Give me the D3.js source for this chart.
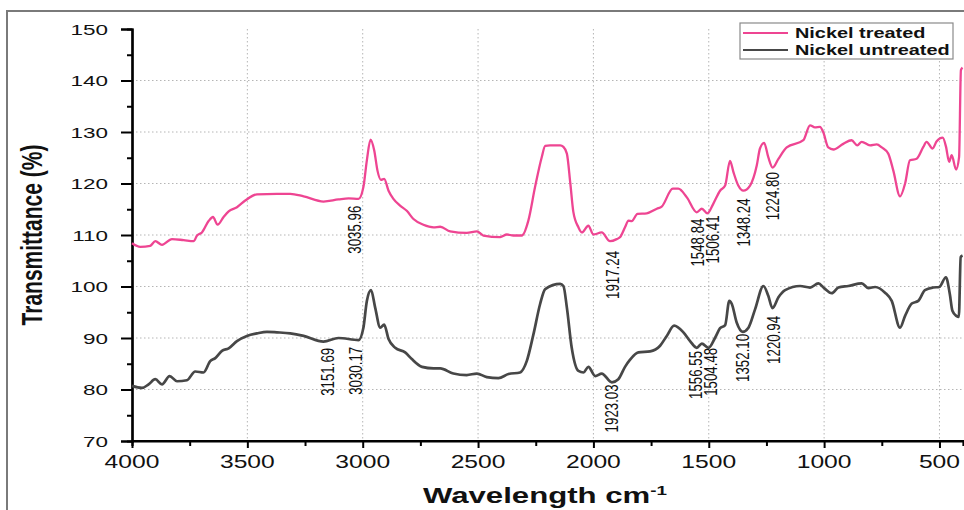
<!DOCTYPE html>
<html lang="en">
<head>
    <meta charset="UTF-8">
    <title>FTIR Nickel</title>
    <script src="https://cdn.jsdelivr.net/npm/d3@7"></script>
    <style>
      body { margin: 0; background: #fff; }
      text { font-family: "Liberation Sans", Arial, sans-serif; fill: #111; }
    </style>
</head>
<body>
<script>
  // wavenumbers (cm-1) and transmittance
  var treatedWn = [4000, 3964, 3921, 3899, 3870, 3827, 3776, 3733, 3718, 3697, 3668, 3649, 3629, 3603, 3581, 3545, 3509, 3458, 3372, 3314, 3256, 3170, 3105, 3061, 3018, 2997, 2982, 2966, 2950, 2936, 2921, 2907, 2888, 2867, 2838, 2809, 2780, 2737, 2693, 2664, 2621, 2549, 2505, 2477, 2404, 2375, 2347, 2310, 2282, 2253, 2224, 2209, 2188, 2144, 2130, 2115, 2100, 2087, 2065, 2050, 2022, 2000, 1964, 1928, 1899, 1884, 1863, 1848, 1834, 1809, 1769, 1725, 1704, 1656, 1632, 1595, 1552, 1530, 1506, 1480, 1451, 1429, 1408, 1393, 1372, 1350, 1321, 1292, 1278, 1260, 1242, 1223, 1198, 1162, 1090, 1061, 1040, 1018, 1004, 982, 960, 917, 881, 856, 837, 801, 772, 750, 722, 700, 671, 649, 628, 599, 570, 556, 530, 512, 486, 472, 458, 447, 428, 415, 407, 400];
  var treatedT = [108.4, 107.7, 107.9, 108.8, 108.1, 109.2, 109.0, 108.8, 109.9, 110.5, 112.7, 113.5, 112.0, 113.5, 114.6, 115.4, 116.7, 117.9, 118.0, 118.0, 117.5, 116.5, 116.9, 117.1, 117.0, 119.3, 124.5, 128.5, 126.4, 122.5, 120.7, 120.9, 118.6, 117.0, 115.7, 114.7, 113.1, 112.0, 111.5, 111.6, 110.7, 110.4, 110.7, 109.9, 109.6, 110.1, 109.9, 109.9, 112.8, 119.3, 125.1, 127.3, 127.4, 127.4, 127.1, 125.8, 120.0, 114.5, 111.5, 110.5, 111.8, 110.1, 110.5, 108.8, 109.2, 109.6, 111.5, 112.8, 112.7, 114.1, 114.2, 115.1, 115.5, 119.0, 119.0, 117.3, 114.4, 115.1, 114.2, 116.1, 118.6, 119.6, 124.4, 122.2, 119.6, 118.6, 119.6, 123.5, 126.8, 127.9, 125.1, 123.1, 124.8, 127.0, 128.4, 131.3, 130.9, 131.0, 130.0, 127.0, 126.6, 127.7, 128.4, 127.4, 128.1, 127.4, 127.6, 127.0, 125.8, 122.5, 117.5, 120.0, 124.5, 124.8, 127.1, 128.1, 126.8, 128.2, 128.9, 127.2, 124.2, 125.5, 122.7, 125.1, 142.0, 142.5];

  var untreatedWn = [4000, 3957, 3928, 3899, 3870, 3837, 3805, 3762, 3726, 3690, 3661, 3639, 3610, 3581, 3545, 3502, 3458, 3415, 3372, 3314, 3256, 3170, 3105, 3018, 2997, 2982, 2964, 2946, 2924, 2907, 2888, 2859, 2816, 2787, 2743, 2693, 2664, 2607, 2549, 2505, 2462, 2412, 2368, 2318, 2289, 2260, 2231, 2209, 2144, 2130, 2115, 2094, 2065, 2043, 2022, 1992, 1964, 1920, 1892, 1863, 1841, 1805, 1754, 1711, 1682, 1650, 1610, 1581, 1552, 1530, 1501, 1472, 1451, 1429, 1411, 1400, 1379, 1353, 1328, 1299, 1263, 1242, 1224, 1198, 1169, 1104, 1061, 1025, 1000, 967, 938, 895, 837, 808, 779, 736, 707, 671, 649, 620, 592, 563, 527, 501, 472, 455, 444, 427, 416, 408, 400];
  var untreatedT = [80.7, 80.3, 81.0, 82.0, 81.0, 82.6, 81.6, 81.8, 83.5, 83.3, 85.5, 86.1, 87.5, 88.0, 89.4, 90.4, 90.9, 91.2, 91.1, 90.9, 90.4, 89.3, 90.0, 89.6, 92.0, 97.2, 99.3, 95.9, 92.0, 92.6, 89.8, 88.1, 87.2, 85.9, 84.4, 84.1, 84.1, 83.1, 82.8, 83.1, 82.4, 82.2, 83.0, 83.3, 85.5, 90.7, 96.6, 99.5, 100.5, 100.1, 95.9, 88.1, 83.6, 83.3, 84.4, 82.6, 83.1, 81.4, 82.0, 84.4, 85.8, 87.2, 87.4, 88.5, 90.4, 92.4, 91.1, 89.4, 88.1, 88.9, 88.1, 90.1, 91.9, 92.5, 97.2, 96.6, 93.0, 91.2, 92.0, 95.6, 100.1, 98.2, 95.8, 97.9, 99.3, 100.1, 99.8, 100.6, 99.7, 98.7, 99.8, 100.1, 100.6, 99.7, 99.9, 98.8, 97.2, 92.0, 94.3, 96.7, 97.2, 99.3, 99.8, 99.9, 101.8, 98.5, 95.3, 94.3, 94.1, 105.7, 106.0];

  // peak labels: wavenumber text and the transmittance level where the label's top sits
  var peakLabels = ["3035.96", "3151.69", "3030.17", "1917.24", "1923.03", "1548.84", "1506.41", "1348.24", "1224.80", "1556.55", "1504.48", "1352.10", "1220.94"];
  var peakTop = [115.7, 88.1, 88.3, 106.9, 81.0, 113.2, 113.8, 117.1, 122.2, 87.5, 88.1, 90.8, 94.3];

  var xTicks = [4000, 3500, 3000, 2500, 2000, 1500, 1000, 500];
  var yTicks = [70, 80, 90, 100, 110, 120, 130, 140, 150];
  var seriesNames = ["Nickel treated", "Nickel untreated"];
  var seriesColors = ["#ee4592", "#474747"];

  drawChart();

  function drawChart() {
    var width = 964, height = 510;
    var sx = 1.4; // the original figure is stretched sideways, text too

    var svg = d3.select("body").append("svg")
      .attr("width", width)
      .attr("height", height);

    svg.append("rect")
      .attr("x", 7).attr("y", 11)
      .attr("width", width).attr("height", height)
      .attr("fill", "none")
      .attr("stroke", "#7a7a7a")
      .attr("stroke-width", 2);

    var xScale = d3.scaleLinear().domain([4000, 398]).range([132, 963]);
    var yScale = d3.scaleLinear().domain([70, 150]).range([441, 29]);

    // grid
    var grid = svg.append("g");
    xTicks.slice(1).forEach(function (t) {
      grid.append("line")
        .attr("x1", xScale(t)).attr("x2", xScale(t))
        .attr("y1", yScale(150)).attr("y2", yScale(70))
        .attr("stroke", "#b5b5b5").attr("stroke-width", 1)
        .attr("stroke-dasharray", "1.5,2.5");
    });
    yTicks.slice(1, -1).forEach(function (t) {
      grid.append("line")
        .attr("x1", xScale(4000)).attr("x2", width)
        .attr("y1", yScale(t)).attr("y2", yScale(t))
        .attr("stroke", "#b5b5b5").attr("stroke-width", 1)
        .attr("stroke-dasharray", "1.5,2.5");
    });

    // axes
    var xAxis = d3.axisBottom(xScale).tickValues(xTicks).tickSize(7).tickFormat("");
    var xMinor = d3.axisBottom(xScale).tickValues([3750, 3250, 2750, 2250, 1750, 1250, 750]).tickSize(5).tickFormat("");
    var yAxis = d3.axisLeft(yScale).tickValues(yTicks).tickSize(11).tickFormat("");
    var yMinor = d3.axisLeft(yScale).tickValues([75, 85, 95, 105, 115, 125, 135, 145]).tickSize(5).tickFormat("");

    var gx = svg.append("g").attr("transform", "translate(0," + yScale(70) + ")").call(xAxis);
    svg.append("g").attr("transform", "translate(0," + yScale(70) + ")").call(xMinor);
    svg.append("g").attr("transform", "translate(" + xScale(4000) + ",0)").call(yAxis);
    svg.append("g").attr("transform", "translate(" + xScale(4000) + ",0)").call(yMinor);
    svg.selectAll(".domain").attr("stroke", "#000").attr("stroke-width", 2.2);
    svg.selectAll(".tick line").attr("stroke", "#000").attr("stroke-width", 2);
    gx.select(".domain").attr("d", "M" + xScale(4000) + ",0H" + width);

    xTicks.forEach(function (t) {
      svg.append("text")
        .attr("transform", "translate(" + xScale(t) + ",468) scale(1.37,1)")
        .attr("text-anchor", "middle")
        .style("font-size", "18px")
        .text(t);
    });
    yTicks.forEach(function (t) {
      svg.append("text")
        .attr("transform", "translate(108," + yScale(t) + ") scale(1.45,1)")
        .attr("text-anchor", "end")
        .attr("dy", "0.36em")
        .style("font-size", "15.5px")
        .text(t);
    });

    // axis titles
    svg.append("text")
      .attr("transform", "translate(31,235) scale(" + sx + ",1) rotate(-90)")
      .attr("text-anchor", "middle")
      .attr("dy", "0.36em")
      .style("font-size", "21px")
      .style("font-weight", "bold")
      .text("Transmittance (%)");

    var xt = svg.append("text")
      .attr("transform", "translate(545,503) scale(1.45,1)")
      .attr("text-anchor", "middle")
      .style("font-size", "21.5px")
      .style("font-weight", "bold");
    xt.append("tspan").text("Wavelength cm");
    xt.append("tspan").attr("dy", -8).style("font-size", "13px").text("-1");

    // spectra
    var line = d3.line()
      .x(function (d) { return xScale(d[0]); })
      .y(function (d) { return yScale(d[1]); })
      .curve(d3.curveMonotoneX);

    var treated = d3.zip(treatedWn, treatedT);
    var untreated = d3.zip(untreatedWn, untreatedT);

    svg.append("path")
      .attr("d", line(untreated))
      .attr("fill", "none")
      .attr("stroke", seriesColors[1])
      .attr("stroke-width", 2.7)
      .attr("stroke-linejoin", "round");

    svg.append("path")
      .attr("d", line(treated))
      .attr("fill", "none")
      .attr("stroke", seriesColors[0])
      .attr("stroke-width", 2.3)
      .attr("stroke-linejoin", "round");

    // peak labels, the close pairs pushed a bit apart so they don't overlap
    var labelX = peakLabels.map(function (lab) { return xScale(+lab); });
    peakLabels.forEach(function (lab, i) {
      for (var j = 0; j < i; j++) {
        var close = Math.abs(labelX[i] - labelX[j]) < 14 && Math.abs(peakTop[i] - peakTop[j]) < 5;
        if (close) labelX[i] = labelX[j] + 15;
      }
    });
    peakLabels.forEach(function (lab, i) {
      svg.append("text")
        .attr("transform", "translate(" + labelX[i] + "," + yScale(peakTop[i]) + ") scale(1.37,1) rotate(-90)")
        .attr("text-anchor", "end")
        .attr("dy", "0.36em")
        .style("font-size", "13.3px")
        .text(lab);
    });

    // legend
    var lg = svg.append("g");
    lg.append("rect")
      .attr("x", 740).attr("y", 23)
      .attr("width", 213).attr("height", 36)
      .attr("fill", "#fff")
      .attr("stroke", "#8a8a8a")
      .attr("stroke-width", 1.2);
    seriesNames.forEach(function (name, i) {
      var ly = 33 + i * 17;
      lg.append("line")
        .attr("x1", 743).attr("x2", 788)
        .attr("y1", ly).attr("y2", ly)
        .attr("stroke", seriesColors[i])
        .attr("stroke-width", 2);
      lg.append("text")
        .attr("transform", "translate(795," + (ly + 5) + ") scale(1.42,1)")
        .style("font-size", "14px")
        .style("font-weight", "bold")
        .text(name);
    });
  }
</script>
</body>
</html>
